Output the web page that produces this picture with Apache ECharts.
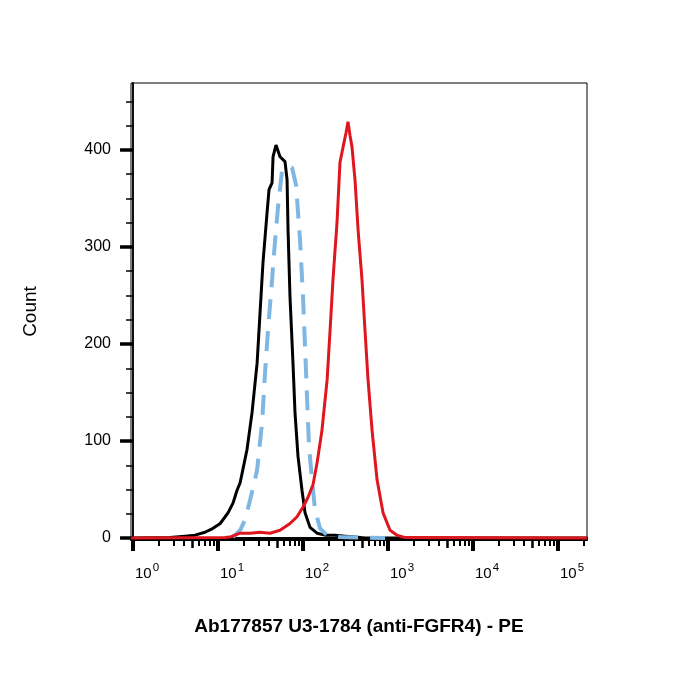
<!DOCTYPE html>
<html>
<head>
<meta charset="utf-8">
<script src="https://cdn.jsdelivr.net/npm/echarts@6/dist/echarts.min.js"></script>
<style>html,body{margin:0;padding:0;background:#fff;}#c{width:700px;height:700px;}</style>
</head>
<body>
<div id="c"></div>
<script>
// Fluorescence intensity (PE) and counts
var blackX = [0.95, 2.72, 4.09, 5.36, 7.03, 8.73, 10.6, 13.1, 15.0, 16.7, 18.2, 21.9, 25.1, 28.8, 31.2, 33.8, 37.7, 39.8, 43.2, 44.4, 48.1, 53.6, 61.4, 64.9, 66.6, 70.3, 76.2, 80.5, 87.3, 97.3, 105.6, 120.9, 146, 181, 238, 312, 409, 537, 219000];
var blackY = [0, 0.5, 2, 3, 6, 10, 15, 26, 36, 49, 57, 91, 129, 180, 232, 284, 335, 359, 366, 393, 405, 393, 388, 369, 318, 248, 180, 129, 84, 49, 26, 11, 5, 3, 3, 2, 1, 0, 0];

var blueX = [15.0, 18.2, 20.8, 23.8, 28.8, 33.0, 35.7, 38.7, 43.2, 46.9, 50.8, 56.6, 63.1, 74.2, 82.7, 92.2, 100, 105.6, 111.5, 117.7, 127.7, 138.4, 158.5, 191.6, 272, 922];
var blueY = [1, 8, 19, 39, 70, 119, 170, 214, 266, 307, 341, 379, 382, 382, 364, 307, 248, 197, 145, 94, 60, 29, 10, 3, 1, 0];

var redX = [0.95, 12.1, 13.8, 18.2, 23.8, 31.2, 40.9, 53.6, 70.3, 85.0, 100, 114.6, 131, 146, 167, 192, 208, 225, 251, 272, 296, 321, 338, 357, 377, 409, 444, 494, 536, 582, 649, 743, 874, 1056, 1277, 1585, 219000];
var redY = [0, 0.5, 1, 5, 5, 6, 5, 8, 15, 22, 32, 42, 55, 77, 111, 163, 214, 266, 325, 387, 403, 418, 429, 415, 403, 369, 318, 266, 214, 163, 111, 60, 26, 8, 3, 0.5, 0];

var xDecades = [0, 1, 2, 3, 4, 5];
var yTicks = [0, 100, 200, 300, 400];
var yMinorTicks = [25, 50, 75, 125, 150, 175, 225, 250, 275, 325, 350, 375, 425, 450];
var xTitle = 'Ab177857 U3-1784 (anti-FGFR4) - PE';
var yTitle = 'Count';

var LOG_MIN = -0.024, LOG_MAX = 5.341;
var Y_MIN = -2, Y_MAX = 469;
var FONT = '"Liberation Sans", Arial, sans-serif';

function toPairs(xs, ys) {
  return xs.map(function (x, i) { return [Math.log10(x), ys[i]]; });
}
var minorLog = [], midLog = [];
for (var n = 0; n <= 5; n++) {
  for (var k = 2; k <= 9; k++) {
    var v = n + Math.log10(k);
    if (v > LOG_MAX) continue;
    if (k === 5) midLog.push(v); else minorLog.push(v);
  }
}

function xAxisBase(extra) {
  var a = {
    type: 'value', position: 'bottom', min: LOG_MIN, max: LOG_MAX,
    axisLine: { show: true, lineStyle: { color: '#000', width: 2 } },
    splitLine: { show: false },
    axisLabel: { show: false },
    axisTick: { show: false }
  };
  for (var key in extra) a[key] = extra[key];
  return a;
}
function yAxisBase(extra) {
  var a = {
    type: 'value', position: 'left', min: Y_MIN, max: Y_MAX,
    axisLine: { show: true, lineStyle: { color: '#000', width: 1.5 } },
    splitLine: { show: false },
    axisLabel: { show: false },
    axisTick: { show: false }
  };
  for (var key in extra) a[key] = extra[key];
  return a;
}

var chart = echarts.init(document.getElementById('c'), null, { renderer: 'canvas' });
chart.setOption({
  animation: false,
  backgroundColor: '#fff',
  grid: { left: 131, right: 113, top: 83, bottom: 160, show: true, borderColor: '#000', borderWidth: 1, backgroundColor: 'transparent' },
  xAxis: [
    xAxisBase({
      name: xTitle, nameLocation: 'middle', nameGap: 77,
      nameTextStyle: { fontFamily: FONT, fontSize: 19, fontWeight: 'bold', color: '#000' },
      axisTick: { show: true, customValues: xDecades, length: 13, lineStyle: { color: '#000', width: 4 } },
      axisLabel: {
        show: true, customValues: xDecades, margin: 22, padding: [0, 0, 0, 28],
        formatter: function (v) { return '{b|10}{s|' + Math.round(v) + '}'; },
        rich: {
          b: { fontFamily: FONT, fontSize: 15, color: '#000' },
          s: { fontFamily: FONT, fontSize: 11.5, color: '#000', padding: [0, 0, 11, 1] }
        }
      }
    }),
    xAxisBase({ axisTick: { show: true, customValues: midLog, length: 10, lineStyle: { color: '#000', width: 2.5 } } }),
    xAxisBase({ axisTick: { show: true, customValues: minorLog, length: 6, lineStyle: { color: '#000', width: 2 } } })
  ],
  yAxis: [
    yAxisBase({
      name: yTitle, nameLocation: 'middle', nameGap: 91,
      nameTextStyle: { fontFamily: FONT, fontSize: 19, color: '#000' },
      axisTick: { show: true, customValues: yTicks, length: 13, lineStyle: { color: '#000', width: 3.5 } },
      axisLabel: { show: true, customValues: yTicks, margin: 20, fontFamily: FONT, fontSize: 16, color: '#000' }
    }),
    yAxisBase({ axisTick: { show: true, customValues: yMinorTicks, length: 7, lineStyle: { color: '#000', width: 1.5 } } })
  ],
  series: [
    { type: 'line', name: 'Black', data: toPairs(blackX, blackY), showSymbol: false, symbol: 'none', clip: true,
      lineStyle: { color: '#000', width: 3 }, z: 3 },
    { type: 'line', name: 'Blue', data: toPairs(blueX, blueY), showSymbol: false, symbol: 'none', clip: true,
      lineStyle: { color: '#7fb7e4', width: 4, type: [20, 12] }, z: 4 },
    { type: 'line', name: 'Red', data: toPairs(redX, redY), showSymbol: false, symbol: 'none', clip: true,
      lineStyle: { color: '#e0161e', width: 3 }, z: 5 }
  ]
});
</script>
</body>
</html>
